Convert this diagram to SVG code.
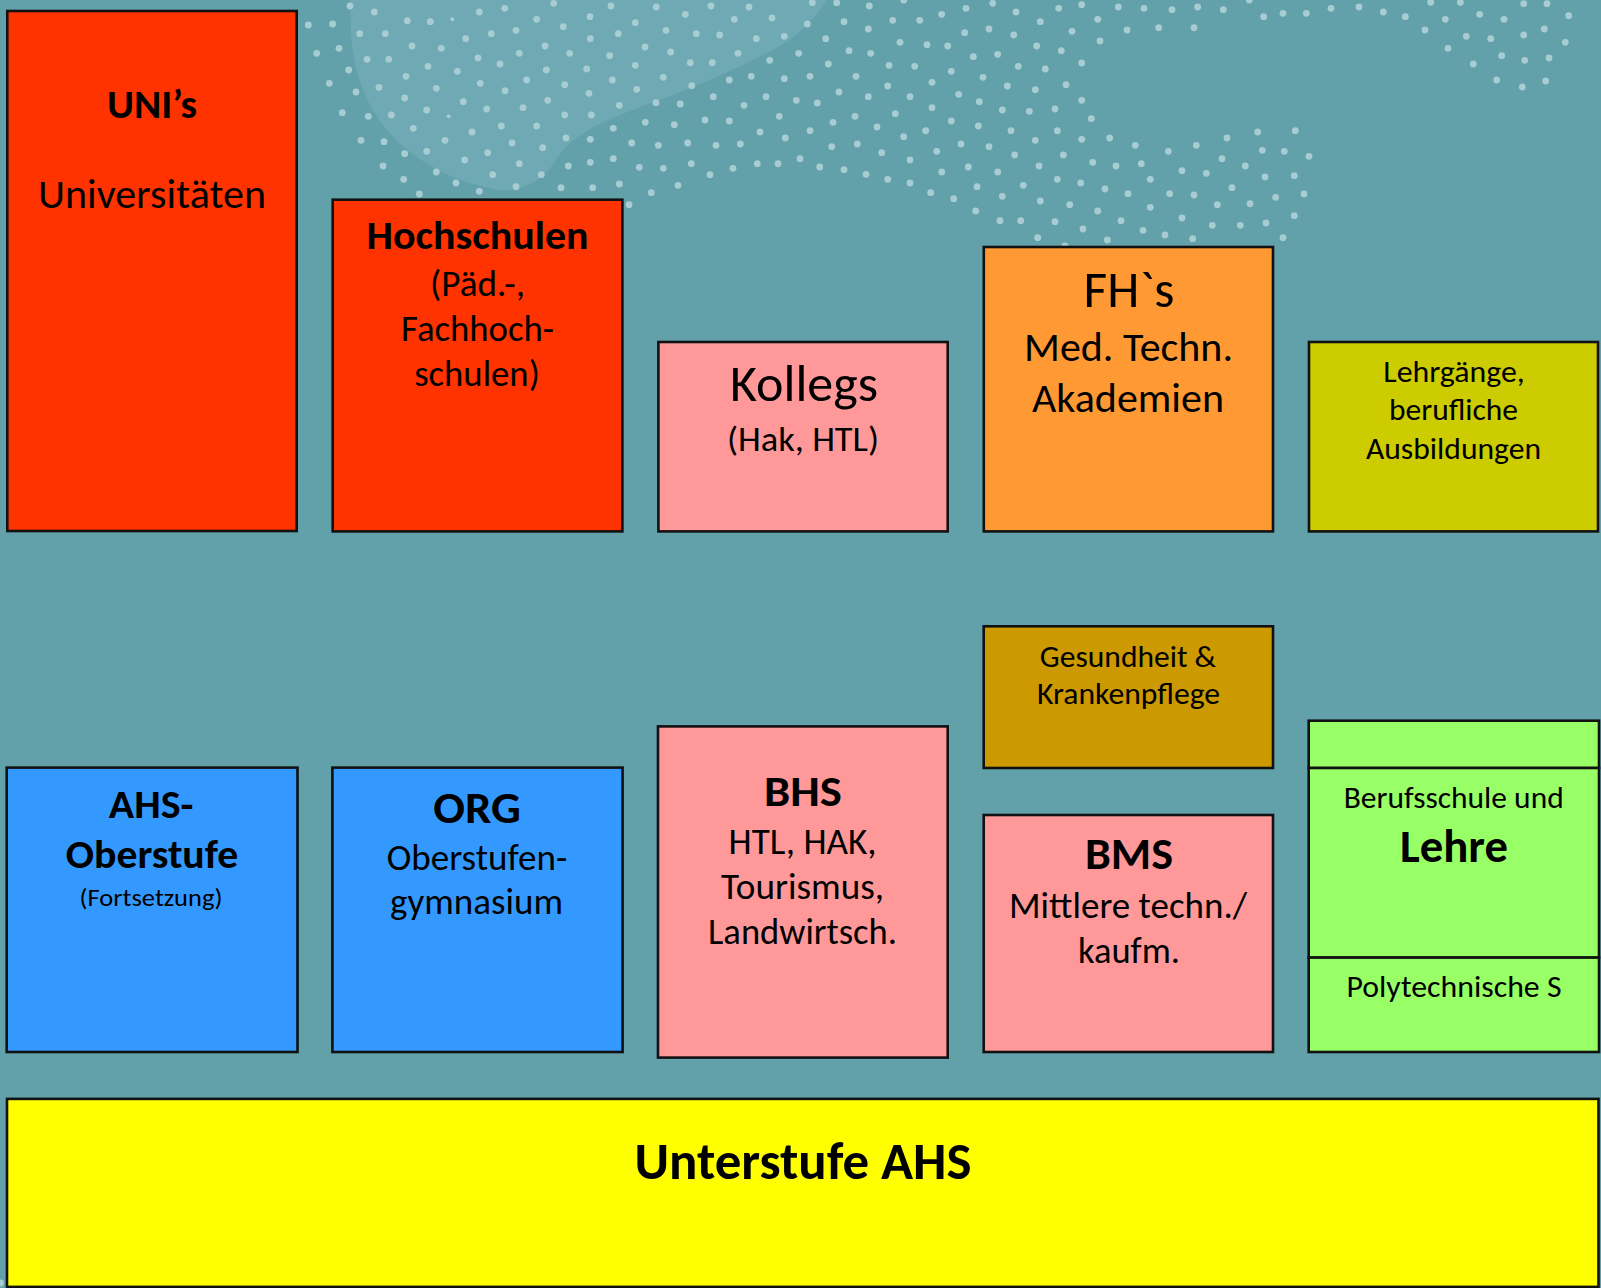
<svg xmlns="http://www.w3.org/2000/svg" width="1601" height="1288" viewBox="0 0 1601 1288">
<style>
.box{stroke:#111;stroke-width:2.6}
.t{font-family:Carlito,Calibri,Lato,"Open Sans",sans-serif;fill:#000;text-anchor:middle}
.b{font-weight:bold}
.dots circle{fill:#a7ccd2}
</style>
<rect width="1601" height="1288" fill="#62a0aa"/>
<path d="M350,0 L351,33 C354,80 370,118 405,148 C430,168 460,184 500,190 C525,192 545,178 556,160 C568,140 590,126 633,110 C680,92 740,70 790,40 C805,28 818,14 827,0 Z" fill="#6fa9b3"/>
<g class="dots">
<circle cx="308.3" cy="25" r="3.4"/><circle cx="332.7" cy="24" r="3.4"/><circle cx="350" cy="6" r="3.4"/><circle cx="374.3" cy="12" r="3.4"/><circle cx="407.3" cy="20.7" r="3.4"/><circle cx="430.3" cy="21.7" r="3.4"/><circle cx="452.3" cy="19.3" r="2"/><circle cx="479.3" cy="12" r="3.4"/><circle cx="504.7" cy="8.3" r="3.4"/><circle cx="536.7" cy="19.3" r="3.4"/><circle cx="553.7" cy="3.3" r="3.4"/><circle cx="563.3" cy="26.7" r="3.4"/><circle cx="590" cy="16.7" r="3.4"/><circle cx="611" cy="6" r="3.4"/><circle cx="635.3" cy="22.7" r="3.4"/><circle cx="656.3" cy="7" r="3.4"/><circle cx="685.3" cy="14.3" r="3.4"/><circle cx="711" cy="6" r="3.4"/><circle cx="734.3" cy="19.3" r="3.4"/><circle cx="749" cy="7" r="3.4"/><circle cx="772" cy="18" r="3.4"/>
<circle cx="316.7" cy="53.3" r="3.4"/><circle cx="339" cy="48.3" r="3.4"/><circle cx="359.7" cy="33.7" r="3.4"/><circle cx="385.3" cy="33.7" r="3.4"/><circle cx="412" cy="46" r="3.4"/><circle cx="441.3" cy="48.3" r="3.4"/><circle cx="465.7" cy="38.7" r="3.4"/><circle cx="491.3" cy="33.7" r="3.4"/><circle cx="516" cy="30.3" r="3.4"/><circle cx="545" cy="46" r="3.4"/><circle cx="569.7" cy="53.3" r="3.4"/><circle cx="590.3" cy="38.7" r="3.4"/><circle cx="618.3" cy="33.7" r="3.4"/><circle cx="645" cy="47" r="3.4"/><circle cx="666" cy="30.3" r="3.4"/><circle cx="696.3" cy="33.7" r="3.4"/><circle cx="719.7" cy="35" r="3.4"/><circle cx="756.3" cy="38.7" r="3.4"/><circle cx="784.3" cy="36.3" r="3.4"/>
<circle cx="348.7" cy="70" r="3.4"/><circle cx="367" cy="59.3" r="3.4"/><circle cx="388.7" cy="59.3" r="3.4"/><circle cx="428" cy="66.3" r="3.4"/><circle cx="457.3" cy="71.3" r="3.4"/><circle cx="478" cy="58" r="3.4"/><circle cx="500" cy="64" r="3.4"/><circle cx="519.3" cy="53.3" r="3.4"/><circle cx="546.3" cy="70" r="3.4"/><circle cx="586.7" cy="69" r="3.4"/><circle cx="609.7" cy="55.7" r="3.4"/><circle cx="635.3" cy="65.3" r="3.4"/><circle cx="670.7" cy="52" r="3.4"/><circle cx="690.3" cy="62.7" r="3.4"/><circle cx="712.3" cy="62.7" r="3.4"/><circle cx="738" cy="53.3" r="3.4"/><circle cx="769.7" cy="60.3" r="3.4"/><circle cx="798.7" cy="53.3" r="3.4"/>
<circle cx="329.3" cy="83.3" r="3.4"/><circle cx="356" cy="92" r="3.4"/><circle cx="379" cy="87.3" r="3.4"/><circle cx="406" cy="76.3" r="3.4"/><circle cx="436.3" cy="88.3" r="3.4"/><circle cx="480.3" cy="83.3" r="3.4"/><circle cx="505" cy="90.7" r="3.4"/><circle cx="526.7" cy="80" r="3.4"/><circle cx="564.7" cy="84.7" r="3.4"/><circle cx="589" cy="93.3" r="3.4"/><circle cx="612.3" cy="80" r="3.4"/><circle cx="636.7" cy="89.3" r="3.4"/><circle cx="663.3" cy="77.3" r="3.4"/><circle cx="691.7" cy="85.7" r="3.4"/><circle cx="729.3" cy="80" r="3.4"/><circle cx="751.3" cy="76.3" r="3.4"/><circle cx="784.3" cy="78.7" r="3.4"/>
<circle cx="342.3" cy="112.7" r="3.4"/><circle cx="368.3" cy="116.3" r="3.4"/><circle cx="391.3" cy="115" r="3.4"/><circle cx="404.7" cy="98" r="3.4"/><circle cx="426.7" cy="110" r="3.4"/><circle cx="448.7" cy="116.3" r="2"/><circle cx="463.3" cy="101.7" r="3.4"/><circle cx="486.7" cy="109" r="3.4"/><circle cx="523" cy="107.7" r="3.4"/><circle cx="547.7" cy="100.3" r="3.4"/><circle cx="564.7" cy="115" r="3.4"/><circle cx="591.3" cy="115" r="3.4"/><circle cx="619.3" cy="105.3" r="3.4"/><circle cx="656" cy="102.7" r="3.4"/><circle cx="680.3" cy="104" r="3.4"/><circle cx="713.3" cy="96.7" r="3.4"/><circle cx="744" cy="105.3" r="3.4"/><circle cx="766" cy="96.7" r="3.4"/><circle cx="796.3" cy="100.3" r="3.4"/>
<circle cx="361" cy="140.3" r="3.4"/><circle cx="384" cy="141.7" r="3.4"/><circle cx="413.3" cy="128.3" r="3.4"/><circle cx="445" cy="140.3" r="3.4"/><circle cx="472" cy="132" r="3.4"/><circle cx="501.3" cy="126" r="3.4"/><circle cx="536.7" cy="126" r="3.4"/><circle cx="566" cy="138" r="3.4"/><circle cx="590.3" cy="139.3" r="3.4"/><circle cx="613.3" cy="128.3" r="3.4"/><circle cx="645.3" cy="122.3" r="3.4"/><circle cx="674.3" cy="124.7" r="3.4"/><circle cx="705" cy="120" r="3.4"/><circle cx="729.3" cy="121" r="3.4"/><circle cx="760" cy="132" r="3.4"/><circle cx="779.3" cy="116.3" r="3.4"/><circle cx="785.3" cy="138" r="3.4"/>
<circle cx="383" cy="166" r="3.4"/><circle cx="404.7" cy="153.7" r="3.4"/><circle cx="426.7" cy="151.3" r="3.4"/><circle cx="464.7" cy="160" r="3.4"/><circle cx="487.7" cy="152.7" r="3.4"/><circle cx="512" cy="143" r="3.4"/><circle cx="542.7" cy="147.7" r="3.4"/><circle cx="519.3" cy="163.7" r="3.4"/><circle cx="568.3" cy="166" r="3.4"/><circle cx="590.3" cy="162.3" r="3.4"/><circle cx="613.3" cy="158.7" r="3.4"/><circle cx="631.7" cy="143" r="3.4"/><circle cx="658.3" cy="145.3" r="3.4"/><circle cx="687.7" cy="143" r="3.4"/><circle cx="716" cy="145.3" r="3.4"/><circle cx="740.3" cy="144" r="3.4"/>
<circle cx="403.7" cy="179.3" r="3.4"/><circle cx="436.3" cy="172" r="3.4"/><circle cx="456" cy="183" r="3.4"/><circle cx="492.7" cy="174.7" r="3.4"/><circle cx="541.3" cy="174.7" r="3.4"/><circle cx="516" cy="186.7" r="3.4"/><circle cx="561" cy="187.7" r="3.4"/><circle cx="592.7" cy="187.7" r="3.4"/><circle cx="619.3" cy="184" r="3.4"/><circle cx="639.3" cy="167.3" r="3.4"/><circle cx="663.3" cy="168.3" r="3.4"/><circle cx="691.3" cy="163.7" r="3.4"/><circle cx="710" cy="174.7" r="3.4"/><circle cx="733" cy="168.3" r="3.4"/><circle cx="757.3" cy="163.7" r="3.4"/><circle cx="778" cy="163.7" r="3.4"/>
<circle cx="419.3" cy="194" r="3.4"/><circle cx="479.3" cy="191.3" r="3.4"/><circle cx="629" cy="204.7" r="3.4"/><circle cx="651.3" cy="192.7" r="3.4"/><circle cx="678" cy="185.3" r="3.4"/>
<circle cx="812.3" cy="2.7" r="3.4"/><circle cx="836.7" cy="2.7" r="3.4"/><circle cx="869.3" cy="6" r="3.4"/><circle cx="903.7" cy="0" r="3.4"/><circle cx="966" cy="8.3" r="3.4"/><circle cx="992.7" cy="3.3" r="3.4"/><circle cx="1016" cy="12" r="3.4"/><circle cx="1058.7" cy="8.3" r="3.4"/><circle cx="1081.7" cy="4.7" r="3.4"/><circle cx="1118.3" cy="7" r="3.4"/><circle cx="1144" cy="8.3" r="3.4"/><circle cx="1172" cy="9.7" r="3.4"/><circle cx="1197.7" cy="7" r="3.4"/><circle cx="1223.3" cy="9.7" r="3.4"/><circle cx="1249.3" cy="0" r="3.4"/><circle cx="1263.7" cy="16.7" r="3.4"/><circle cx="1283" cy="13.3" r="3.4"/>
<circle cx="807.3" cy="24" r="3.4"/><circle cx="844" cy="21.7" r="3.4"/><circle cx="868.3" cy="29" r="3.4"/><circle cx="892.7" cy="20.3" r="3.4"/><circle cx="919.7" cy="20.3" r="3.4"/><circle cx="941.7" cy="14.3" r="3.4"/><circle cx="964.7" cy="32.7" r="3.4"/><circle cx="989" cy="29" r="3.4"/><circle cx="1013.7" cy="35" r="3.4"/><circle cx="1040.3" cy="21.7" r="3.4"/><circle cx="1072" cy="31.3" r="3.4"/><circle cx="1097.7" cy="19.3" r="3.4"/><circle cx="1127" cy="30" r="3.4"/><circle cx="1158.7" cy="27.7" r="3.4"/><circle cx="1194" cy="27.7" r="3.4"/>
<circle cx="825.7" cy="38.7" r="3.4"/><circle cx="849" cy="50.7" r="3.4"/><circle cx="870.7" cy="53.3" r="3.4"/><circle cx="900" cy="42.3" r="3.4"/><circle cx="927" cy="44.7" r="3.4"/><circle cx="947.7" cy="46" r="3.4"/><circle cx="973.3" cy="56.7" r="3.4"/><circle cx="997.7" cy="54.3" r="3.4"/><circle cx="1036.7" cy="46" r="3.4"/><circle cx="1061.3" cy="50.7" r="3.4"/><circle cx="1100" cy="41" r="3.4"/>
<circle cx="828.3" cy="64" r="3.4"/><circle cx="810" cy="76.3" r="3.4"/><circle cx="856" cy="76.3" r="3.4"/><circle cx="889" cy="65.3" r="3.4"/><circle cx="914.7" cy="66.3" r="3.4"/><circle cx="951.3" cy="71.3" r="3.4"/><circle cx="983" cy="77.3" r="3.4"/><circle cx="1018.3" cy="66.3" r="3.4"/><circle cx="1045.3" cy="69" r="3.4"/><circle cx="1081.7" cy="63" r="3.4"/>
<circle cx="839" cy="92" r="3.4"/><circle cx="817.3" cy="103" r="3.4"/><circle cx="868.3" cy="96.7" r="3.4"/><circle cx="887.7" cy="86" r="3.4"/><circle cx="910" cy="96.7" r="3.4"/><circle cx="932" cy="82.3" r="3.4"/><circle cx="958.7" cy="94.3" r="3.4"/><circle cx="979.3" cy="101.7" r="3.4"/><circle cx="1007.3" cy="86" r="3.4"/><circle cx="1035.3" cy="89.7" r="3.4"/><circle cx="1066" cy="84.7" r="3.4"/><circle cx="1081.7" cy="100.3" r="3.4"/>
<circle cx="833" cy="122.3" r="3.4"/><circle cx="810" cy="130.7" r="3.4"/><circle cx="855" cy="116.3" r="3.4"/><circle cx="877" cy="127" r="3.4"/><circle cx="895.3" cy="113.7" r="3.4"/><circle cx="932" cy="107.7" r="3.4"/><circle cx="951.3" cy="121" r="3.4"/><circle cx="978.3" cy="126" r="3.4"/><circle cx="1002.3" cy="110" r="3.4"/><circle cx="1029.3" cy="111.3" r="3.4"/><circle cx="1055" cy="109" r="3.4"/><circle cx="1091.3" cy="118.7" r="3.4"/>
<circle cx="831.7" cy="146.7" r="3.4"/><circle cx="800" cy="158.7" r="3.4"/><circle cx="857.3" cy="144" r="3.4"/><circle cx="881.7" cy="152.7" r="3.4"/><circle cx="903.7" cy="136.7" r="3.4"/><circle cx="925.7" cy="130.7" r="3.4"/><circle cx="936.7" cy="151.3" r="3.4"/><circle cx="961" cy="144" r="3.4"/><circle cx="989" cy="146.7" r="3.4"/><circle cx="1011" cy="130.7" r="3.4"/><circle cx="1035.3" cy="140.3" r="3.4"/><circle cx="1057.3" cy="130.7" r="3.4"/><circle cx="1081.7" cy="139.3" r="3.4"/><circle cx="1109.7" cy="138" r="3.4"/><circle cx="1135.3" cy="145.3" r="3.4"/><circle cx="1168.3" cy="151.3" r="3.4"/><circle cx="1196.3" cy="145.3" r="3.4"/><circle cx="1227" cy="138" r="3.4"/><circle cx="1257.7" cy="132" r="3.4"/><circle cx="1295.3" cy="130.7" r="3.4"/>
<circle cx="819.7" cy="167" r="3.4"/><circle cx="844" cy="169.7" r="3.4"/><circle cx="866" cy="174.3" r="3.4"/><circle cx="887.7" cy="179.3" r="3.4"/><circle cx="910" cy="183" r="3.4"/><circle cx="910" cy="160" r="3.4"/><circle cx="941.7" cy="172" r="3.4"/><circle cx="968.3" cy="167" r="3.4"/><circle cx="997.7" cy="172" r="3.4"/><circle cx="1014.7" cy="155" r="3.4"/><circle cx="1039" cy="166" r="3.4"/><circle cx="1063.3" cy="155" r="3.4"/><circle cx="1092.7" cy="162.3" r="3.4"/><circle cx="1116" cy="166" r="3.4"/><circle cx="1141.3" cy="163.7" r="3.4"/><circle cx="1182" cy="170.7" r="3.4"/><circle cx="1206.3" cy="173.3" r="3.4"/><circle cx="1222" cy="158.7" r="3.4"/><circle cx="1245.3" cy="166" r="3.4"/><circle cx="1262.3" cy="150.3" r="3.4"/><circle cx="1284.3" cy="151.3" r="3.4"/>
<circle cx="930.7" cy="192.7" r="3.4"/><circle cx="953.7" cy="198.7" r="3.4"/><circle cx="977" cy="186.7" r="3.4"/><circle cx="1002.3" cy="196.3" r="3.4"/><circle cx="1023.3" cy="185.3" r="3.4"/><circle cx="1040.3" cy="201" r="3.4"/><circle cx="1057.3" cy="179.3" r="3.4"/><circle cx="1069.7" cy="204.7" r="3.4"/><circle cx="1080.7" cy="183" r="3.4"/><circle cx="1105" cy="189" r="3.4"/><circle cx="1128" cy="193.7" r="3.4"/><circle cx="1150.3" cy="179.3" r="3.4"/><circle cx="1169.7" cy="193.7" r="3.4"/><circle cx="1194" cy="195" r="3.4"/><circle cx="1232" cy="187.7" r="3.4"/><circle cx="1265" cy="177" r="3.4"/><circle cx="1294.3" cy="175.7" r="3.4"/>
<circle cx="975.7" cy="211" r="3.4"/><circle cx="1000" cy="220.7" r="3.4"/><circle cx="1020.7" cy="220.7" r="3.4"/><circle cx="1055" cy="221.7" r="3.4"/><circle cx="1083" cy="229" r="3.4"/><circle cx="1097.7" cy="211" r="3.4"/><circle cx="1121" cy="220.7" r="3.4"/><circle cx="1143" cy="230.3" r="3.4"/><circle cx="1150.3" cy="207.3" r="3.4"/><circle cx="1165" cy="235" r="3.4"/><circle cx="1182" cy="218" r="3.4"/><circle cx="1192.7" cy="238.7" r="3.4"/><circle cx="1212.3" cy="225.3" r="3.4"/><circle cx="1217.3" cy="204.7" r="3.4"/><circle cx="1240.3" cy="225.3" r="3.4"/><circle cx="1250" cy="203.7" r="3.4"/><circle cx="1266" cy="223" r="3.4"/><circle cx="1275.7" cy="197.3" r="3.4"/><circle cx="1294.3" cy="215.7" r="3.4"/>
<circle cx="1037.7" cy="237.7" r="3.4"/><circle cx="1107.3" cy="240" r="3.4"/><circle cx="1065" cy="246" r="3.4"/><circle cx="1283" cy="237.7" r="3.4"/>
<circle cx="1306.3" cy="13.3" r="3.4"/><circle cx="1331" cy="8.3" r="3.4"/><circle cx="1359" cy="7" r="3.4"/><circle cx="1383.3" cy="12" r="3.4"/><circle cx="1405.3" cy="16.7" r="3.4"/><circle cx="1430.7" cy="2.3" r="3.4"/><circle cx="1460.3" cy="2.3" r="3.4"/><circle cx="1523.7" cy="3.7" r="3.4"/><circle cx="1547" cy="3.7" r="3.4"/><circle cx="1425" cy="30" r="3.4"/><circle cx="1445.3" cy="19.3" r="3.4"/><circle cx="1479.7" cy="14.3" r="3.4"/><circle cx="1504" cy="19.3" r="3.4"/><circle cx="1568.7" cy="15.7" r="3.4"/><circle cx="1466.3" cy="36.3" r="3.4"/><circle cx="1490.7" cy="38.7" r="3.4"/><circle cx="1523.7" cy="35" r="3.4"/><circle cx="1544.3" cy="29" r="3.4"/><circle cx="1565.3" cy="42.3" r="3.4"/><circle cx="1448" cy="48.3" r="3.4"/><circle cx="1501.7" cy="55.7" r="3.4"/><circle cx="1524.7" cy="60.3" r="3.4"/><circle cx="1549" cy="58" r="3.4"/><circle cx="1473.3" cy="64" r="3.4"/><circle cx="1496.7" cy="80" r="3.4"/><circle cx="1522.3" cy="87" r="3.4"/><circle cx="1545.7" cy="81" r="3.4"/><circle cx="1309" cy="156.3" r="3.4"/><circle cx="1304" cy="194" r="3.4"/>
<circle cx="0.5" cy="1283" r="3.4"/>
</g>
<g id="uni">
<rect class="box" x="7.3" y="11" width="289.4" height="520" fill="#ff3300"/>
<text class="t b" x="152" y="118" font-size="41" textLength="90" lengthAdjust="spacingAndGlyphs">UNI’s</text>
<text class="t" x="152" y="207.7" font-size="41" textLength="228" lengthAdjust="spacingAndGlyphs">Universitäten</text>
</g>
<g id="hochschulen">
<rect class="box" x="332.7" y="199.7" width="289.7" height="331.7" fill="#ff3300"/>
<text class="t b" x="477.5" y="249.3" font-size="41" textLength="222" lengthAdjust="spacingAndGlyphs">Hochschulen</text>
<text class="t" x="477.5" y="295.5" font-size="36" textLength="95" lengthAdjust="spacingAndGlyphs">(Päd.-,</text>
<text class="t" x="477.5" y="341" font-size="36" textLength="153" lengthAdjust="spacingAndGlyphs">Fachhoch-</text>
<text class="t" x="477" y="385.7" font-size="36" textLength="125.6" lengthAdjust="spacingAndGlyphs">schulen)</text>
</g>
<g id="kollegs">
<rect class="box" x="658.4" y="342" width="289.3" height="189.4" fill="#ff9999"/>
<text class="t" x="804" y="401" font-size="52" textLength="148" lengthAdjust="spacingAndGlyphs">Kollegs</text>
<text class="t" x="803" y="451" font-size="35" textLength="152" lengthAdjust="spacingAndGlyphs">(Hak, HTL)</text>
</g>
<g id="fhs">
<rect class="box" x="983.8" y="247" width="289.2" height="284.4" fill="#ff9933"/>
<text class="t" x="1129" y="306.5" font-size="52" textLength="91" lengthAdjust="spacingAndGlyphs">FH`s</text>
<text class="t" x="1128.5" y="360.6" font-size="42" textLength="209" lengthAdjust="spacingAndGlyphs">Med. Techn.</text>
<text class="t" x="1128" y="412" font-size="42" textLength="192" lengthAdjust="spacingAndGlyphs">Akademien</text>
</g>
<g id="lehrgaenge">
<rect class="box" x="1309" y="342" width="289" height="189.4" fill="#cccc00"/>
<text class="t" x="1454" y="382.3" font-size="30" textLength="141.5" lengthAdjust="spacingAndGlyphs">Lehrgänge,</text>
<text class="t" x="1453.5" y="420" font-size="30" textLength="129" lengthAdjust="spacingAndGlyphs">berufliche</text>
<text class="t" x="1453.5" y="459" font-size="30" textLength="175" lengthAdjust="spacingAndGlyphs">Ausbildungen</text>
</g>
<g id="gesundheit">
<rect class="box" x="983.7" y="626.3" width="289.3" height="141.7" fill="#cc9900"/>
<text class="t" x="1128" y="666.7" font-size="31" textLength="176.3" lengthAdjust="spacingAndGlyphs">Gesundheit &amp;</text>
<text class="t" x="1128.5" y="704.4" font-size="31" textLength="183" lengthAdjust="spacingAndGlyphs">Krankenpflege</text>
</g>
<g id="ahs-oberstufe">
<rect class="box" x="6.7" y="767.6" width="290.8" height="284.4" fill="#3399ff"/>
<text class="t b" x="151" y="818" font-size="40" textLength="84.5" lengthAdjust="spacingAndGlyphs">AHS-</text>
<text class="t b" x="152" y="867.6" font-size="40" textLength="172.5" lengthAdjust="spacingAndGlyphs">Oberstufe</text>
<text class="t" x="151" y="905.8" font-size="24" textLength="143" lengthAdjust="spacingAndGlyphs">(Fortsetzung)</text>
</g>
<g id="org">
<rect class="box" x="332.4" y="767.6" width="290.2" height="284.4" fill="#3399ff"/>
<text class="t b" x="477" y="823" font-size="45" textLength="87.6" lengthAdjust="spacingAndGlyphs">ORG</text>
<text class="t" x="477" y="870.3" font-size="36" textLength="180.5" lengthAdjust="spacingAndGlyphs">Oberstufen-</text>
<text class="t" x="476.5" y="914.2" font-size="36" textLength="173" lengthAdjust="spacingAndGlyphs">gymnasium</text>
</g>
<g id="bhs">
<rect class="box" x="658" y="726.4" width="289.7" height="331.2" fill="#ff9999"/>
<text class="t b" x="803" y="806.2" font-size="43" textLength="77.8" lengthAdjust="spacingAndGlyphs">BHS</text>
<text class="t" x="802.6" y="853.6" font-size="36" textLength="148" lengthAdjust="spacingAndGlyphs">HTL, HAK,</text>
<text class="t" x="802.5" y="899" font-size="36" textLength="163" lengthAdjust="spacingAndGlyphs">Tourismus,</text>
<text class="t" x="802.5" y="943.6" font-size="36" textLength="189" lengthAdjust="spacingAndGlyphs">Landwirtsch.</text>
</g>
<g id="bms">
<rect class="box" x="983.7" y="815" width="289.3" height="237" fill="#ff9999"/>
<text class="t b" x="1129" y="868.5" font-size="44" textLength="88" lengthAdjust="spacingAndGlyphs">BMS</text>
<text class="t" x="1128" y="918" font-size="37" textLength="238" lengthAdjust="spacingAndGlyphs">Mittlere techn./</text>
<text class="t" x="1129" y="962.9" font-size="37" textLength="102" lengthAdjust="spacingAndGlyphs">kaufm.</text>
</g>
<g id="berufsschule">
<rect class="box" x="1308.7" y="720.7" width="290.3" height="47.3" fill="#99ff66"/>
<rect class="box" x="1308.7" y="768" width="290.3" height="189.6" fill="#99ff66"/>
<rect class="box" x="1308.7" y="957.6" width="290.3" height="94.4" fill="#99ff66"/>
<text class="t" x="1453.7" y="807.5" font-size="30" textLength="220" lengthAdjust="spacingAndGlyphs">Berufsschule und</text>
<text class="t b" x="1454" y="862" font-size="47" textLength="108" lengthAdjust="spacingAndGlyphs">Lehre</text>
<text class="t" x="1454" y="997" font-size="30" textLength="215" lengthAdjust="spacingAndGlyphs">Polytechnische S</text>
</g>
<g id="unterstufe">
<rect class="box" x="7" y="1098.9" width="1591.5" height="188" fill="#ffff00"/>
<text class="t b" x="803" y="1179" font-size="52" textLength="337" lengthAdjust="spacingAndGlyphs">Unterstufe AHS</text>
</g>
<g id="connectors"/>
</svg>
